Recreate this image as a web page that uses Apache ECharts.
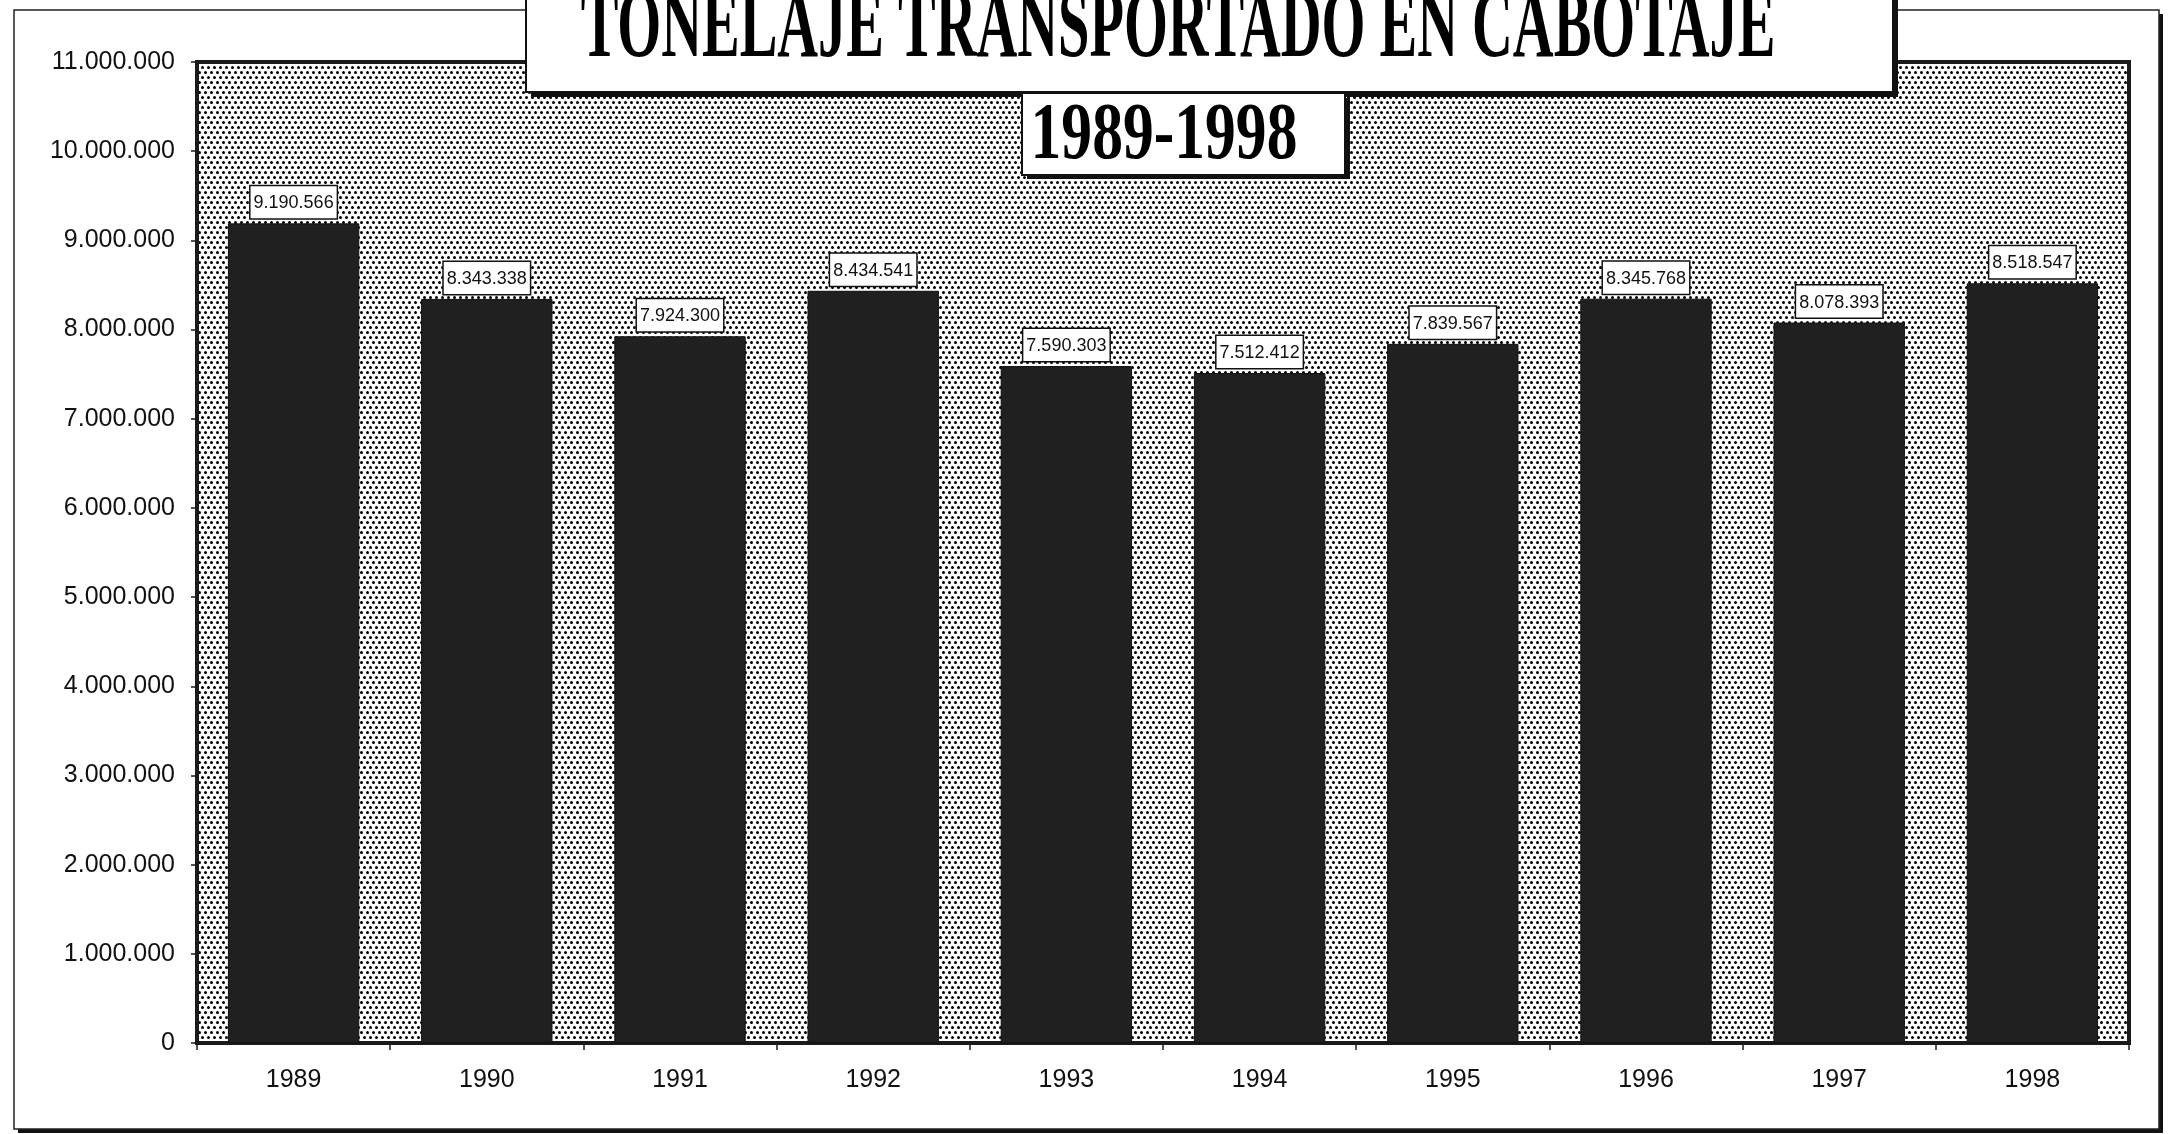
<!DOCTYPE html>
<html>
<head>
<meta charset="utf-8">
<title>Tonelaje transportado en cabotaje</title>
<script src="https://cdn.jsdelivr.net/npm/echarts@6/dist/echarts.min.js"></script>
<style>
	html,
	body {
		margin: 0;
		padding: 0;
		background: #fff;
	}
	#chart {
		width: 2169px;
		height: 1134px;
	}
</style>
</head>
<body>
<div id="chart"></div>
<script>
// datos del grafico
const years = ['1989', '1990', '1991', '1992', '1993', '1994', '1995', '1996', '1997', '1998']
const tonnage = [9190566, 8343338, 7924300, 8434541, 7590303, 7512412, 7839567, 8345768, 8078393, 8518547]
const titleText = 'TONELAJE TRANSPORTADO EN CABOTAJE'
const subtitleText = '1989-1998'

// 11.000.000 con punto como separador de miles
function fmt(v) {
	return String(v).replace(/\B(?=(\d{3})+(?!\d))/g, '.')
}

// trama de puntos del fondo
function dotPattern() {
	let c = document.createElement('canvas')
	c.width = 6
	c.height = 10
	let ctx = c.getContext('2d')
	ctx.fillStyle = '#fff'
	ctx.fillRect(0, 0, 6, 10)
	ctx.fillStyle = '#000'
	ctx.beginPath()
	ctx.arc(1.5, 2.5, 1.5, 0, Math.PI * 2)
	ctx.closePath()
	ctx.arc(4.5, 7.5, 1.5, 0, Math.PI * 2)
	ctx.fill()
	return { image: c, repeat: 'repeat' }
}

const chart = echarts.init(document.getElementById('chart'))

let option = {
	backgroundColor: '#fff',
	animation: false,
	grid: {
		show: true,
		left: 197,
		top: 62,
		right: 40,
		bottom: 91,
		backgroundColor: dotPattern(),
		borderColor: '#1a1a1a',
		borderWidth: 4,
	},
	xAxis: {
		type: 'category',
		data: years,
		boundaryGap: true,
		axisLine: { lineStyle: { color: '#1a1a1a', width: 3 } },
		axisTick: { show: true, length: 7, lineStyle: { color: '#1a1a1a', width: 1.5 } },
		axisLabel: {
			margin: 25,
			fontFamily: 'Liberation Sans',
			fontSize: 25,
			color: '#111',
		},
	},
	yAxis: {
		type: 'value',
		min: 0,
		max: 11000000,
		interval: 1000000,
		splitLine: { show: false },
		axisLine: { show: true, lineStyle: { color: '#1a1a1a', width: 3 } },
		axisTick: { show: true, length: 6, lineStyle: { color: '#1a1a1a', width: 1.5 } },
		axisLabel: {
			margin: 22,
			fontFamily: 'Liberation Sans',
			fontSize: 25,
			color: '#111',
			formatter: fmt,
		},
	},
	series: [
		{
			type: 'bar',
			data: tonnage,
			barWidth: '68%',
			itemStyle: { color: '#202020', borderColor: '#111', borderWidth: 1 },
			label: {
				show: true,
				position: 'top',
				distance: 5,
				formatter: (p) => fmt(p.value),
				fontFamily: 'Liberation Sans',
				fontSize: 18,
				color: '#111',
				backgroundColor: '#fff',
				borderColor: '#111',
				borderWidth: 1.5,
				padding: [8, 3, 6, 3],
			},
		},
	],
	graphic: [
		// marco exterior con sombra
		{ type: 'rect', z: -10, silent: true, shape: { x: 18, y: 14, width: 2145, height: 1119 }, style: { fill: '#111' } },
		{ type: 'rect', z: -9, silent: true, shape: { x: 14, y: 10, width: 2145, height: 1119 }, style: { fill: '#fff', stroke: '#222', lineWidth: 1.5 } },
		// caja del titulo
		{ type: 'rect', z: 100, silent: true, shape: { x: 531, y: -10, width: 1367, height: 107 }, style: { fill: '#111' } },
		{ type: 'rect', z: 101, silent: true, shape: { x: 526, y: -10, width: 1367, height: 102 }, style: { fill: '#fff', stroke: '#111', lineWidth: 2 } },
		{
			type: 'text',
			z: 102,
			silent: true,
			x: 1178,
			y: 31,
			scaleX: 0.576,
			style: {
				text: titleText,
				font: 'bold 98px "Liberation Serif"',
				fill: '#000',
				align: 'center',
				verticalAlign: 'middle',
			},
		},
		// caja del subtitulo
		{ type: 'rect', z: 100, silent: true, shape: { x: 1027, y: 98, width: 323, height: 81 }, style: { fill: '#111' } },
		{ type: 'rect', z: 101, silent: true, shape: { x: 1022, y: 93, width: 323, height: 82 }, style: { fill: '#fff', stroke: '#111', lineWidth: 2 } },
		{
			type: 'text',
			z: 102,
			silent: true,
			x: 1164,
			y: 137,
			scaleX: 0.77,
			style: {
				text: subtitleText,
				font: 'bold 80px "Liberation Serif"',
				fill: '#000',
				align: 'center',
				verticalAlign: 'middle',
			},
		},
	],
}

chart.setOption(option)
window.addEventListener('resize', chart.resize)
</script>
</body>
</html>
